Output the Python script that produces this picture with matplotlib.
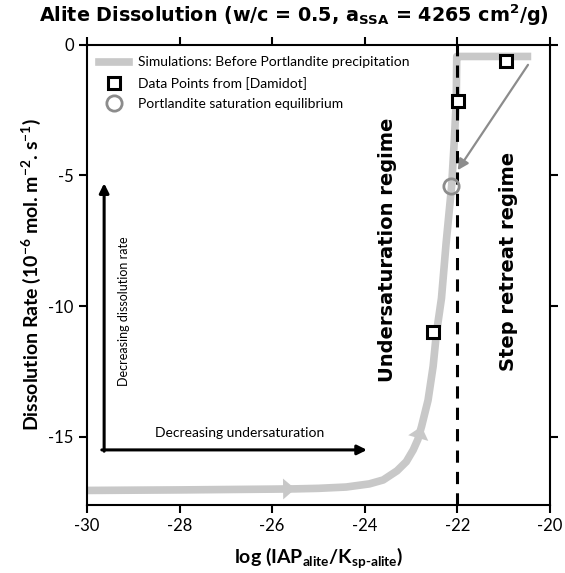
import matplotlib
matplotlib.use("Agg")
import matplotlib.pyplot as plt
from matplotlib.lines import Line2D

plt.rcParams["font.family"] = ["Lato", "DejaVu Sans"]
plt.rcParams["mathtext.default"] = "regular"
plt.rcParams["axes.unicode_minus"] = False

# Simulated rate curve (before Portlandite precipitation)
sim_x = [-30.0, -28.0, -26.0, -25.5, -25.0, -24.4, -23.9, -23.6, -23.3, -23.1,
         -22.95, -22.85, -22.77, -22.63, -22.52, -22.45, -22.34, -22.24, -22.12,
         -22.06, -22.02, -22.01, -21.9, -21.0, -20.4]
sim_y = [-17.05, -17.03, -17.0, -16.99, -16.97, -16.92, -16.8, -16.65, -16.3, -15.95,
         -15.5, -15.1, -14.6, -13.6, -12.3, -11.05, -9.7, -7.6, -5.4,
         -3.6, -2.1, -0.45, -0.45, -0.45, -0.45]

# Damidot data points
data_x = [-22.53, -21.99, -20.95]
data_y = [-11.0, -2.15, -0.62]

# Portlandite saturation equilibrium
sat_x = [-22.14]
sat_y = [-5.4]

# Redirect arrow (gray) and regime boundary
redirect_from = (-20.47, -0.77)
redirect_to = (-21.99, -4.8)
boundary_x = -22.0

GRAY_LINE = "#c8c8c8"
GRAY_MARK = "#8c8c8c"
BOLD = dict(family=["DejaVu Sans"], fontweight="bold")

fig = plt.figure(figsize=(5.65, 5.73), dpi=100)
ax = fig.add_axes([0.154, 0.119, 0.819, 0.803])

ax.plot(sim_x, sim_y, color=GRAY_LINE, lw=5.5, solid_joinstyle="round",
        solid_capstyle="butt", zorder=2)

# direction arrowheads on the simulated curve
for i in (2, 11):
    ax.annotate("", xy=(sim_x[i + 1], sim_y[i + 1]), xytext=(sim_x[i], sim_y[i]),
                arrowprops=dict(arrowstyle="-|>,head_length=0.35,head_width=0.3",
                                color=GRAY_LINE, lw=0, mutation_scale=25,
                                shrinkA=0, shrinkB=0),
                zorder=3)

ax.axvline(boundary_x, color="black", lw=2.2, ls=(0, (4, 3)), zorder=3)

ax.plot(data_x, data_y, ls="none", marker="s", ms=9, mfc="white", mec="black",
        mew=2.2, zorder=5)
ax.plot(sat_x, sat_y, ls="none", marker="o", ms=11, mfc="none", mec=GRAY_MARK,
        mew=2, zorder=5)

ax.annotate("", xy=redirect_to, xytext=redirect_from,
            arrowprops=dict(arrowstyle="-|>", color=GRAY_MARK, lw=1.6,
                            mutation_scale=16, shrinkA=0, shrinkB=0),
            zorder=4)

# guide arrows
ax.annotate("", xy=(-29.63, -5.3), xytext=(-29.63, -15.55),
            arrowprops=dict(arrowstyle="-|>", color="black", lw=2.2,
                            mutation_scale=14, shrinkA=0, shrinkB=0))
ax.annotate("", xy=(-23.95, -15.5), xytext=(-29.68, -15.5),
            arrowprops=dict(arrowstyle="-|>", color="black", lw=2.2,
                            mutation_scale=14, shrinkA=0, shrinkB=0))
ax.text(-29.2, -10.2, "Decreasing dissolution rate", rotation=90,
        ha="center", va="center", fontsize=9)
ax.text(-26.7, -14.85, "Decreasing undersaturation", ha="center", va="center",
        fontsize=10)

ax.text(-23.5, -7.85, "Undersaturation regime", rotation=90, ha="center",
        va="center", fontsize=14, **BOLD)
ax.text(-20.9, -8.3, "Step retreat regime", rotation=90, ha="center",
        va="center", fontsize=14, **BOLD)

ax.set_xlim(-30, -20)
ax.set_ylim(-17.6, 0)
ax.set_xticks([-30, -28, -26, -24, -22, -20])
ax.set_yticks([0, -5, -10, -15])
ax.tick_params(direction="out", length=6, width=1.5, labelsize=12,
               top=True, right=True)
for s in ax.spines.values():
    s.set_linewidth(1.5)

handles = [
    Line2D([], [], color=GRAY_LINE, lw=5.5),
    Line2D([], [], ls="none", marker="s", ms=9, mfc="white", mec="black", mew=2.2),
    Line2D([], [], ls="none", marker="o", ms=11, mfc="none", mec=GRAY_MARK, mew=2),
]
labels = ["Simulations: Before Portlandite precipitation",
          "Data Points from [Damidot]",
          "Portlandite saturation equilibrium"]
ax.legend(handles, labels, loc="upper left", frameon=False, fontsize=10,
          handlelength=2.2, borderaxespad=0.45, labelspacing=0.6,
          handletextpad=0.6)

ax.set_xlabel("log (IAP$_{alite}$/K$_{sp\u2010alite}$)", fontsize=14,
              fontweight="bold", labelpad=8)
ax.set_ylabel("Dissolution Rate (10$^{-6}$ mol. m$^{-2}$. s$^{-1}$)", fontsize=14,
              fontweight="bold", labelpad=4)
fig.suptitle("Alite Dissolution (w/c = 0.5, a$_{SSA}$ = 4265 cm$^{2}$/g)",
             fontsize=13.8, x=0.52, y=0.995, **BOLD)

fig.savefig("out.png", dpi=100)
